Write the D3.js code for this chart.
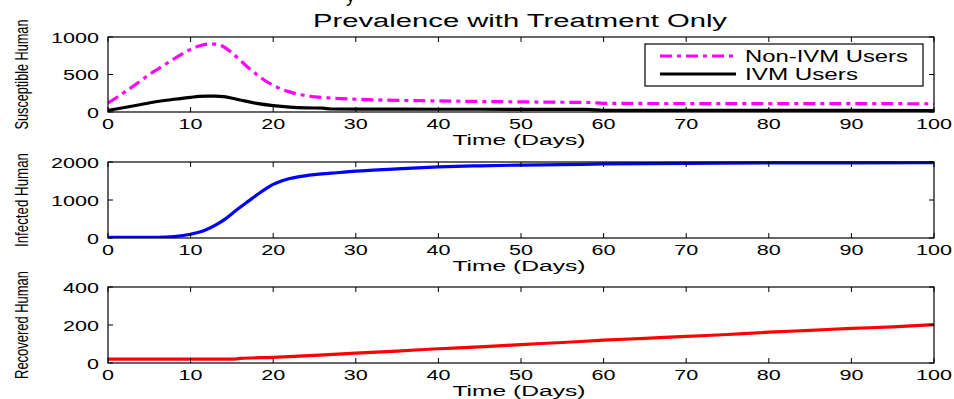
<!DOCTYPE html>
<html><head><meta charset="utf-8">
<script src="https://cdn.jsdelivr.net/npm/d3@7"></script>
<style>body{margin:0;background:#fff}svg{display:block}text{font-family:"Liberation Sans",Arial,sans-serif;fill:#000}</style>
</head><body><svg id="c" width="954" height="399"></svg>
<script>
const timeTicks = [0,10,20,30,40,50,60,70,80,90,100];
const tNon = [0,1,2,3,4,5,6,7,8,9,10,11,12,13,14,15,16,17,18,19,20,21,22,23,24,25,27,30,35,40,45,50,55,58,60,70,80,90,100];
const nonIVM = [120,190,265,340,420,500,570,640,710,775,835,880,905,905,870,790,690,590,500,420,355,305,268,238,217,202,186,170,155,148,140,135,130,128,115,113,112,111,110];
const tIVM = [0,2,4,6,8,10,11,12,13,14,16,18,20,22,24,26,27,30,40,50,58,60,70,100];
const ivm = [20,60,100,140,170,195,208,212,212,205,160,115,85,65,55,52,40,38,37,36,35,22,22,20];
const tInf = [0,6,8,10,11,12,13,14,15,16,17,18,19,20,21,22,23,25,27,30,35,40,45,50,55,60,70,80,100];
const infected = [20,20,40,100,150,230,340,470,640,810,970,1130,1280,1410,1500,1565,1610,1668,1705,1760,1820,1870,1900,1920,1930,1950,1965,1975,1980];
const tRec = [0,15,16,20,25,30,35,40,45,50,55,60,65,70,75,80,85,90,95,100];
const recovered = [20,20,24,30,40,52,63,75,85,97,108,120,130,140,150,162,172,182,190,202];
const titleText = "Prevalence with Treatment Only";
const xLabel = "Time (Days)";
const legendNames = ["Non-IVM Users","IVM Users"];

const svg = d3.select("#c");
const L = 108, R = 934;
const x = d3.scaleLinear().domain([0,100]).range([L,R]);

const panels = [
  {top:37,bottom:112,max:1000,ticks:[0,500,1000],label:"Susceptible Human",labelLen:110,
   series:[{t:tNon,v:nonIVM,color:"#ff00ff",dash:"12,5,4,5"},{t:tIVM,v:ivm,color:"#000",dash:null}]},
  {top:162,bottom:238,max:2000,ticks:[0,1000,2000],label:"Infected Human",labelLen:94,
   series:[{t:tInf,v:infected,color:"#0000ff",dash:null}]},
  {top:287,bottom:363,max:400,ticks:[0,200,400],label:"Recovered Human",labelLen:108,
   series:[{t:tRec,v:recovered,color:"#ff0000",dash:null}]}
];

panels.forEach((p,i)=>{
  const y = d3.scaleLinear().domain([0,p.max]).range([p.bottom,p.top]);
  const g = svg.append("g");
  const clipId = "clip"+i;
  svg.append("clipPath").attr("id",clipId).append("rect")
    .attr("x",L).attr("y",p.top-2).attr("width",R-L).attr("height",p.bottom-p.top+2);
  p.series.forEach(s=>{
    const line = d3.line().x((d,j)=>x(s.t[j])).y(d=>y(d)).curve(d3.curveMonotoneX);
    g.append("path").attr("d",line(s.v)).attr("fill","none")
      .attr("stroke",s.color).attr("stroke-width",3.2)
      .attr("stroke-dasharray",s.dash)
      .attr("clip-path",`url(#${clipId})`);
  });
  const tl = 5;
  timeTicks.forEach(t=>{
    g.append("line").attr("x1",x(t)).attr("x2",x(t)).attr("y1",p.bottom).attr("y2",p.bottom-tl).attr("stroke","#000");
    g.append("line").attr("x1",x(t)).attr("x2",x(t)).attr("y1",p.top).attr("y2",p.top+tl).attr("stroke","#000");
    const lbl = String(t);
    g.append("text").attr("x",x(t)).attr("y",p.bottom+17).attr("text-anchor","middle")
      .attr("font-size",14.5).attr("textLength",lbl.length*12).attr("lengthAdjust","spacingAndGlyphs").text(lbl);
  });
  p.ticks.forEach(v=>{
    g.append("line").attr("x1",L).attr("x2",L+tl).attr("y1",y(v)).attr("y2",y(v)).attr("stroke","#000");
    g.append("line").attr("x1",R).attr("x2",R-tl).attr("y1",y(v)).attr("y2",y(v)).attr("stroke","#000");
    const lbl = String(v);
    g.append("text").attr("x",99 - lbl.length*12).attr("y",y(v)+5.5)
      .attr("font-size",14.5).attr("textLength",lbl.length*12).attr("lengthAdjust","spacingAndGlyphs").text(lbl);
  });
  g.append("rect").attr("x",L).attr("y",p.top).attr("width",R-L).attr("height",p.bottom-p.top)
    .attr("fill","none").attr("stroke","#000").attr("stroke-width",1.2);
  g.append("text").attr("x",(L+R)/2-2).attr("y",p.bottom+33).attr("text-anchor","middle")
    .attr("font-size",15.5).attr("textLength",133).attr("lengthAdjust","spacingAndGlyphs").text(xLabel);
  const cy = (p.top+p.bottom)/2;
  const yl = g.append("text").attr("text-anchor","middle").attr("font-size",18).text(p.label);
  const nat = yl.node().getComputedTextLength();
  yl.attr("transform",`translate(28,${cy}) rotate(-90) scale(${p.labelLen/nat},1)`);

  if(i===0){
    const lg = svg.append("g");
    lg.append("rect").attr("x",645).attr("y",44).attr("width",278).attr("height",42)
      .attr("fill","#fff").attr("stroke","#000").attr("stroke-width",1.2);
    const ys=[56,74];
    p.series.forEach((s,k)=>{
      lg.append("line").attr("x1",660).attr("x2",736).attr("y1",ys[k]).attr("y2",ys[k])
        .attr("stroke",s.color).attr("stroke-width",3.2).attr("stroke-dasharray",s.dash);
      const w = k===0?163:113;
      lg.append("text").attr("x",745).attr("y",ys[k]+5.5).attr("font-size",16)
        .attr("textLength",w).attr("lengthAdjust","spacingAndGlyphs").text(legendNames[k]);
    });
  }
});

svg.append("text").attr("x",520).attr("y",27).attr("text-anchor","middle").attr("font-size",18)
  .attr("textLength",414).attr("lengthAdjust","spacingAndGlyphs").text(titleText);
svg.append("text").attr("x",346).attr("y",2).attr("font-size",18).text("y");
</script></body></html>
